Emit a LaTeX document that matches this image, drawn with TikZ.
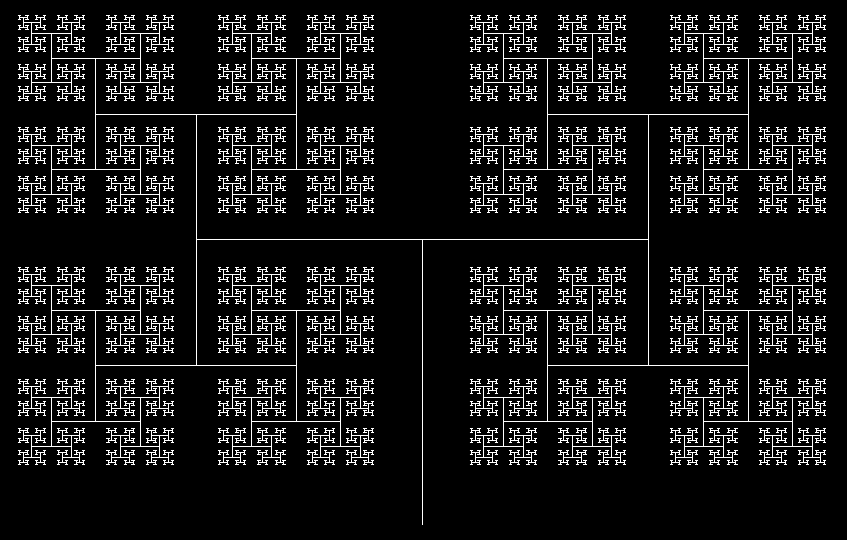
\documentclass[tikz,border=0pt]{standalone}
\usepackage{tikz}
\newcommand\Hseg[4]{%
  \ifnum#4>0
    \pgfmathsetmacro\hta{#1-#3}%
    \pgfmathsetmacro\htb{#1+#3}%
    \pgfmathsetmacro\htl{#3*0.5575}%
    \pgfpathmoveto{\pgfpoint{\hta pt}{-#2pt}}%
    \pgfpathlineto{\pgfpoint{\htb pt}{-#2pt}}%
    \edef\httmp{\noexpand\Vseg{\hta}{#2}{\htl}{\the\numexpr#4-1\relax}\noexpand\Vseg{\htb}{#2}{\htl}{\the\numexpr#4-1\relax}}%
    \httmp
  \fi}
\newcommand\Vseg[4]{%
  \ifnum#4>0
    \pgfmathsetmacro\vta{#2-#3}%
    \pgfmathsetmacro\vtb{#2+#3}%
    \pgfmathsetmacro\vtl{#3*0.7946}%
    \pgfpathmoveto{\pgfpoint{#1pt}{-\vta pt}}%
    \pgfpathlineto{\pgfpoint{#1pt}{-\vtb pt}}%
    \edef\vttmp{\noexpand\Hseg{#1}{\vta}{\vtl}{\the\numexpr#4-1\relax}\noexpand\Hseg{#1}{\vtb}{\vtl}{\the\numexpr#4-1\relax}}%
    \vttmp
  \fi}
\begin{document}
\begin{tikzpicture}[x=1pt,y=-1pt]
\fill[black] (0,0) rectangle (847,540);
\useasboundingbox (0,0) rectangle (847,540);
\begin{scope}
\pgfsetlinewidth{1pt}
\pgfsetstrokecolor{white}
\pgfpathmoveto{\pgfpoint{422pt}{-525pt}}
\pgfpathlineto{\pgfpoint{422pt}{-240pt}}
\Hseg{422}{240}{226}{13}
\pgfusepath{stroke}
\end{scope}
\end{tikzpicture}
\end{document}
